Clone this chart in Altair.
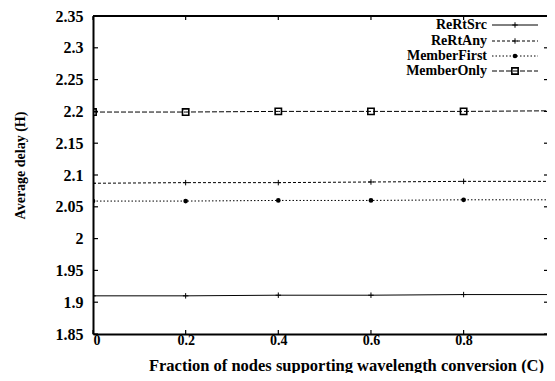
import altair as alt
import pandas as pd

# ---- data ----
x_vals = [0.0, 0.2, 0.4, 0.6, 0.8, 1.0]
rertsrc = [1.910, 1.910, 1.911, 1.911, 1.912, 1.912]
rertany = [2.087, 2.088, 2.088, 2.089, 2.090, 2.090]
memberfirst = [2.059, 2.059, 2.060, 2.060, 2.061, 2.061]
memberonly = [2.199, 2.199, 2.200, 2.200, 2.200, 2.201]

series_names = ["ReRtSrc", "ReRtAny", "MemberFirst", "MemberOnly"]
series_vals = [rertsrc, rertany, memberfirst, memberonly]

y_ticks = [1.85, 1.9, 1.95, 2.0, 2.05, 2.1, 2.15, 2.2, 2.25, 2.3, 2.35]
x_ticks = [0.0, 0.2, 0.4, 0.6, 0.8]

# the reference is cut at the right edge just before x = 1
X_MAX = 0.98
W, H = 454, 318
FONT = "Liberation Serif"

rows = []
for name, vals in zip(series_names, series_vals):
    for xv, yv in zip(x_vals, vals):
        rows.append({"x": xv, "y": yv, "series": name})
df = pd.DataFrame(rows)

xs = alt.Scale(domain=[0, X_MAX], nice=False, zero=False)
ys = alt.Scale(domain=[1.85, 2.35], nice=False, zero=False)

CROSS = "M-1,0L1,0M0,-1L0,1"
styles = {
    "ReRtSrc": dict(dash=[1, 0], shape=CROSS, filled=False, size=30, sw=1),
    "ReRtAny": dict(dash=[3, 2], shape=CROSS, filled=False, size=30, sw=1),
    "MemberFirst": dict(dash=[1.5, 2], shape="circle", filled=True, size=22, sw=1),
    "MemberOnly": dict(dash=[5, 2], shape="square", filled=False, size=40, sw=1.6),
}

x_axis = alt.Axis(
    values=x_ticks, labelExpr="format(datum.value, '.2~g')", ticks=False,
    grid=False, domainColor="black", domainWidth=2, labelPadding=-1,
    labelFont=FONT, labelFontSize=14, labelFontWeight="bold", labelColor="black",
    title="Fraction of nodes supporting wavelength conversion (C)",
    titleFont=FONT, titleFontSize=16.5, titleFontWeight="bold", titleColor="black",
    titleX=253, titleY=31, titleBaseline="middle", titleAnchor="middle",
)
y_axis = alt.Axis(
    values=y_ticks, labelExpr="format(datum.value, '.3~g')", ticks=False,
    grid=False, domainColor="black", domainWidth=2, labelPadding=10,
    labelFont=FONT, labelFontSize=16, labelFontWeight="bold", labelColor="black",
    title="Average delay (H)", titleX=-73, titleY=H / 2 - 10,
    titleFont=FONT, titleFontSize=14, titleFontWeight="bold", titleColor="black",
    titleAngle=-90, titleBaseline="middle", titleAnchor="middle",
)

def X(field):
    return alt.X(field, scale=xs, axis=x_axis)

def Y(field):
    return alt.Y(field, scale=ys, axis=y_axis)

layers = []
for name in series_names:
    st = styles[name]
    d = df[df.series == name]
    layers.append(alt.Chart(d).mark_line(color="black", strokeWidth=1,
                                         strokeDash=st["dash"], clip=True).encode(
        x=X("x:Q"), y=Y("y:Q")))
    layers.append(alt.Chart(d).mark_point(color="black", shape=st["shape"],
                                          filled=st["filled"], size=st["size"],
                                          strokeWidth=st["sw"], opacity=1,
                                          clip=True).encode(
        x=X("x:Q"), y=Y("y:Q")))

# frame: top border and inward ticks
yt = pd.DataFrame({"v": y_ticks})
xt = pd.DataFrame({"v": x_ticks})
layers.append(alt.Chart(yt).mark_rule(color="black", strokeWidth=1.5).encode(
    x=alt.value(0), x2=alt.value(W), y=alt.value(0)))
layers.append(alt.Chart(yt).mark_rule(color="black", strokeWidth=1.2).encode(
    y=Y("v:Q"), x=alt.value(0), x2=alt.value(5)))
layers.append(alt.Chart(yt).mark_rule(color="black", strokeWidth=1.2).encode(
    y=Y("v:Q"), x=alt.value(W - 3), x2=alt.value(W)))
layers.append(alt.Chart(xt).mark_rule(color="black", strokeWidth=1.2).encode(
    x=X("v:Q"), y=alt.value(H - 4), y2=alt.value(H)))
layers.append(alt.Chart(xt).mark_rule(color="black", strokeWidth=1.2).encode(
    x=X("v:Q"), y=alt.value(0), y2=alt.value(4)))

# legend (labels right-aligned, sample line to the right)
leg_rows = [9, 25, 40, 55]
lab_x, l0, l1 = 394, 399, 445
for name, ry in zip(series_names, leg_rows):
    st = styles[name]
    one = pd.DataFrame({"series": [name]})
    layers.append(alt.Chart(one).mark_text(
        align="right", baseline="middle", font=FONT, fontSize=14,
        fontWeight="bold", color="black").encode(
        text="series:N", x=alt.value(lab_x), y=alt.value(ry)))
    layers.append(alt.Chart(one).mark_rule(
        color="black", strokeWidth=1, strokeDash=st["dash"]).encode(
        x=alt.value(l0), x2=alt.value(l1), y=alt.value(ry)))
    layers.append(alt.Chart(one).mark_point(
        color="black", shape=st["shape"], filled=st["filled"], size=st["size"],
        strokeWidth=st["sw"], opacity=1).encode(
        x=alt.value((l0 + l1) / 2), y=alt.value(ry)))

chart = alt.layer(*layers).properties(
    width=W, height=H,
    autosize=alt.AutoSizeParams(type="none"),
    padding={"left": 85, "top": 8, "right": 0, "bottom": 39},
    background="white",
).configure(font=FONT).configure_view(stroke=None)

chart.save("out.html", embed_options={"renderer": "svg", "actions": False})
